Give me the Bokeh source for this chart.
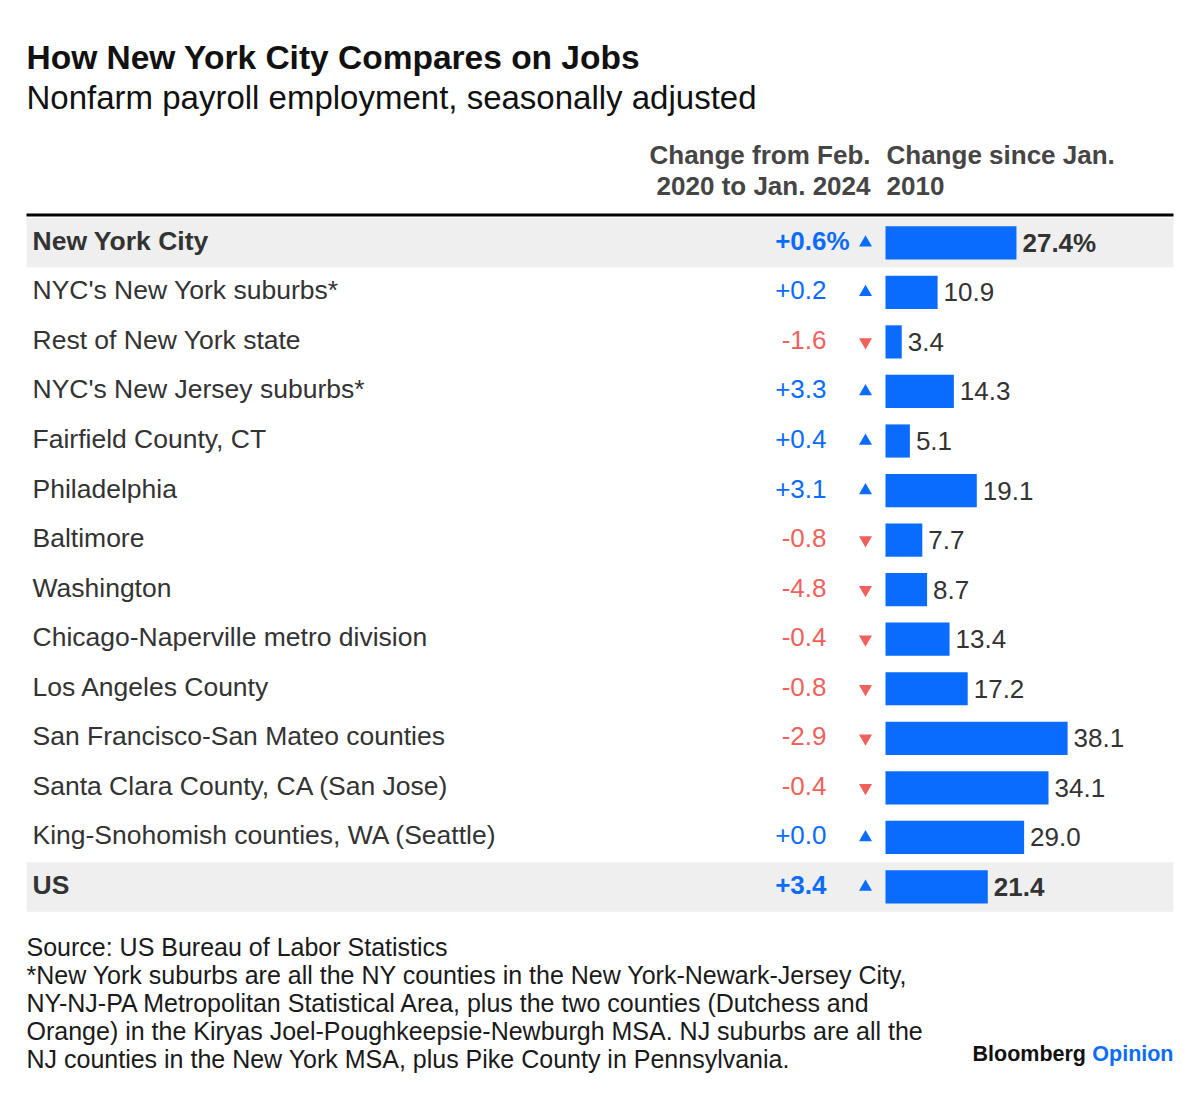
from bokeh.plotting import figure
from bokeh.models import Range1d, ColumnDataSource
from bokeh.core.properties import value
from bokeh.embed import file_html
from bokeh.resources import INLINE

# ---------------- data ----------------
regions = [
    "New York City",
    "NYC's New York suburbs*",
    "Rest of New York state",
    "NYC's New Jersey suburbs*",
    "Fairfield County, CT",
    "Philadelphia",
    "Baltimore",
    "Washington",
    "Chicago-Naperville metro division",
    "Los Angeles County",
    "San Francisco-San Mateo counties",
    "Santa Clara County, CA (San Jose)",
    "King-Snohomish counties, WA (Seattle)",
    "US",
]
change_feb2020_jan2024 = [0.6, 0.2, -1.6, 3.3, 0.4, 3.1, -0.8, -4.8, -0.4, -0.8, -2.9, -0.4, 0.0, 3.4]
change_since_jan2010 = [27.4, 10.9, 3.4, 14.3, 5.1, 19.1, 7.7, 8.7, 13.4, 17.2, 38.1, 34.1, 29.0, 21.4]
highlight = ["New York City", "US"]

title = "How New York City Compares on Jobs"
subtitle = "Nonfarm payroll employment, seasonally adjusted"
header_change = ["Change from Feb.", "2020 to Jan. 2024"]
header_since = ["Change since Jan.", "2010"]
footnotes = [
    "Source: US Bureau of Labor Statistics",
    "*New York suburbs are all the NY counties in the New York-Newark-Jersey City,",
    "NY-NJ-PA Metropolitan Statistical Area, plus the two counties (Dutchess and",
    "Orange) in the Kiryas Joel-Poughkeepsie-Newburgh MSA. NJ suburbs are all the",
    "NJ counties in the New York MSA, plus Pike County in Pennsylvania.",
]

# ---------------- styles ----------------
FONT = value("Liberation Sans")
BLUE = "#0a6cff"
RED = "#f0615c"
TEXT = "#333333"
HEAD = "#454545"
GREY_BG = "#efefef"

W, H = 1184, 1078
p = figure(width=W, height=H, x_range=Range1d(0, W), y_range=Range1d(H, 0),
           output_backend="svg", toolbar_location=None, min_border=0,
           x_axis_location=None, y_axis_location=None, outline_line_color=None,
           background_fill_color="white", border_fill_color="white")
p.xgrid.visible = False
p.ygrid.visible = False

# scales for the data: bar value -> x, row index -> y
BAR_X0, PX_PER_UNIT = 885.0, 4.78
ROW0, ROW_PITCH = 242.3, 49.55
p.extra_x_ranges = {"bar": Range1d((0 - BAR_X0) / PX_PER_UNIT, (W - BAR_X0) / PX_PER_UNIT)}
p.extra_y_ranges = {"row": Range1d((H - ROW0) / ROW_PITCH, (0 - ROW0) / ROW_PITCH)}

n = len(regions)
rows = list(range(n))
is_hl = [r in highlight for r in regions]
src = ColumnDataSource(dict(
    row=rows,
    region=regions,
    chg=change_feb2020_jan2024,
    chg_txt=[f"{v:+.1f}" for v in change_feb2020_jan2024],
    chg_col=[BLUE if v >= 0 else RED for v in change_feb2020_jan2024],
    since=change_since_jan2010,
    since_txt=[f"{v:.1f}" + ("%" if i == 0 else "") for i, v in enumerate(change_since_jan2010)],
    style=["bold" if h else "normal" for h in is_hl],
    marker=["triangle" if v >= 0 else "inverted_triangle" for v in change_feb2020_jan2024],
    tri_col=[BLUE if v >= 0 else RED for v in change_feb2020_jan2024],
    zero=[0] * n,
))
hl_src = ColumnDataSource(dict(row=[i for i, h in enumerate(is_hl) if h]))

# grey highlight backgrounds
p.hbar(y="row", left=26, right=1173, height=1.0, source=hl_src, y_range_name="row",
       fill_color=GREY_BG, line_color=None)

# thick header rule
p.line([26, 1173], [214.5, 214.5], line_color="black", line_width=3)

# bars
p.hbar(y="row", left="zero", right="since", height=0.67, source=src,
       x_range_name="bar", y_range_name="row", fill_color=BLUE, line_color=None)

# value labels after bars
p.text(x="since", y="row", text="since_txt", source=src, x_range_name="bar", y_range_name="row",
       x_offset=6, text_align="left", text_baseline="middle", text_font=FONT,
       text_font_size=value("26px"), text_font_style="style", text_color=TEXT)

# region labels
p.text(x=32, y="row", text="region", source=src, y_range_name="row", y_offset=-2,
       text_align="left", text_baseline="middle", text_font=FONT,
       text_font_size=value("26.5px"), text_font_style="style", text_color=TEXT)

# change values
p.text(x=826, y="row", text="chg_txt", source=src, y_range_name="row", y_offset=-2,
       text_align="right", text_baseline="middle", text_font=FONT,
       text_font_size=value("26px"), text_font_style="style", text_color="chg_col")
pct_src = ColumnDataSource(dict(row=[0], t=["%"], c=[BLUE if change_feb2020_jan2024[0] >= 0 else RED]))
p.text(x=826, y="row", text="t", source=pct_src, y_range_name="row", y_offset=-2,
       text_align="left", text_baseline="middle", text_font=FONT,
       text_font_size=value("26px"), text_font_style="bold", text_color="c")

# triangles
p.scatter(x=865, y="row", marker="marker", source=src, y_range_name="row",
          size=13, fill_color="tri_col", line_color=None)

# title / subtitle
p.text(x=[26], y=[56.5], text=[title], text_font=FONT, text_font_size=value("33.5px"),
       text_font_style="bold", text_color="#111111", text_baseline="middle")
p.text(x=[26], y=[97], text=[subtitle], text_font=FONT, text_font_size=value("33px"),
       text_color="#111111", text_baseline="middle")

# column headers
p.text(x=[870, 870], y=[154, 185], text=header_change, text_font=FONT,
       text_font_size=value("26px"), text_font_style="bold", text_color=HEAD,
       text_align="right", text_baseline="middle")
p.text(x=[886, 886], y=[154, 185], text=header_since, text_font=FONT,
       text_font_size=value("26px"), text_font_style="bold", text_color=HEAD,
       text_align="left", text_baseline="middle")

# footnotes
p.text(x=[26] * len(footnotes), y=[946 + 28 * i for i in range(len(footnotes))], text=footnotes,
       text_font=FONT, text_font_size=value("25px"), text_color="#1a1a1a",
       text_baseline="middle")

# logo
p.text(x=[972], y=[1053], text=["Bloomberg"], text_font=FONT, text_font_size=value("21.5px"),
       text_font_style="bold", text_color="#111111", text_baseline="middle")
p.text(x=[1173], y=[1053], text=["Opinion"], text_font=FONT, text_font_size=value("21.5px"),
       text_font_style="bold", text_color=BLUE, text_align="right", text_baseline="middle")

open("out.html", "w").write(file_html(p, INLINE))
